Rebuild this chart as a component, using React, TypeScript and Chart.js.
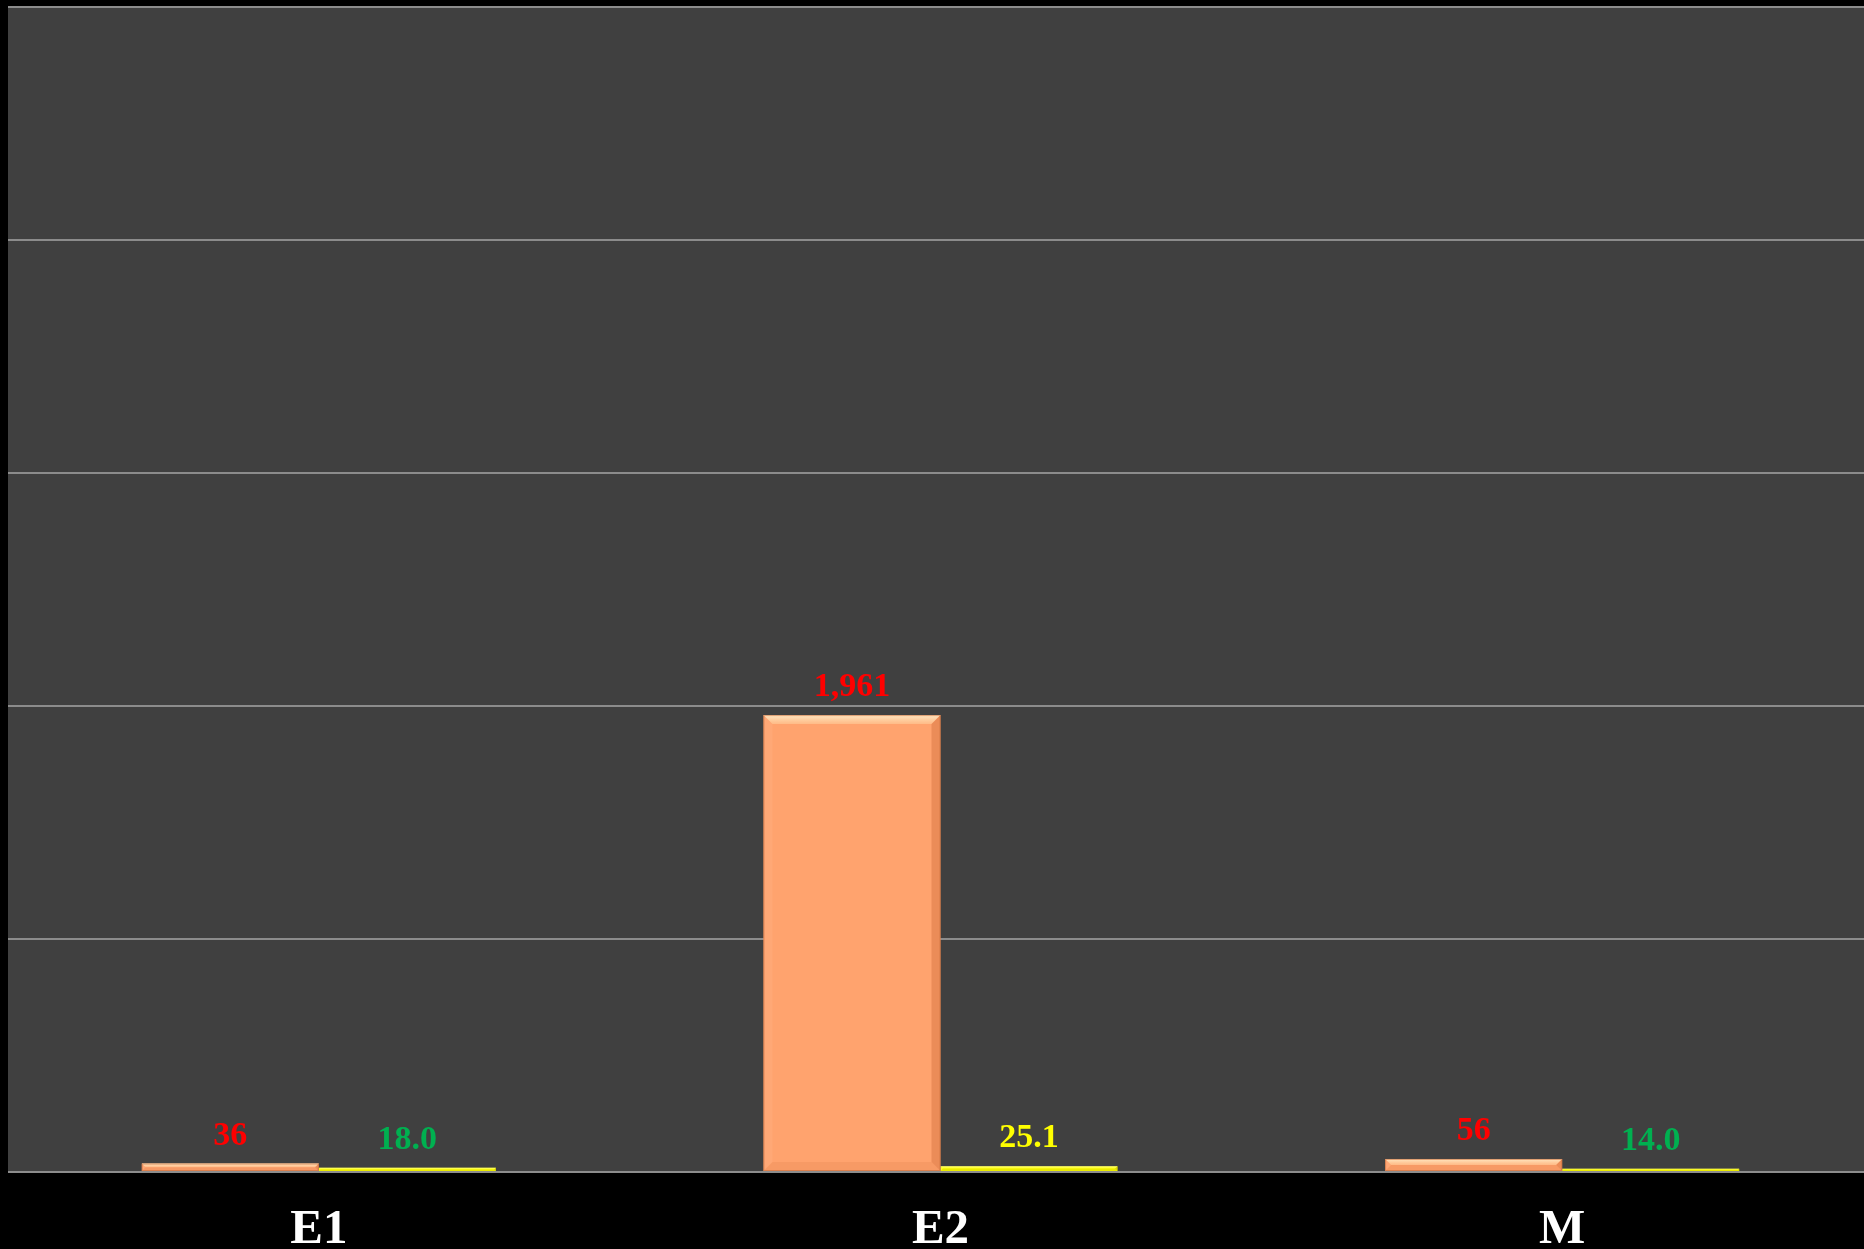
import React, { useEffect, useRef } from "react";
import { Chart, registerables } from "chart.js";

Chart.register(...registerables);

const categories = ["E1", "E2", "M"];
const seriesA = [36, 1961, 56];
const seriesB = [18.0, 25.1, 14.0];
const labelsA = ["36", "1,961", "56"];
const labelsB = ["18.0", "25.1", "14.0"];
const labelColorsA = ["#FF0000", "#FF0000", "#FF0000"];
const labelColorsB = ["#00B050", "#FFFF00", "#00B050"];
const yMax = 5000;
const yStep = 1000;

const CANVAS_W = 1873;
const CANVAS_H = 1262;

const bgPlugin = {
  id: "bgPlugin",
  beforeDraw(chart: any) {
    const { ctx, chartArea } = chart;
    ctx.save();
    ctx.fillStyle = "#000000";
    ctx.fillRect(0, 0, chart.width, chart.height);
    ctx.fillStyle = "#404040";
    ctx.fillRect(chartArea.left, chartArea.top, chartArea.right - chartArea.left, chartArea.bottom - chartArea.top);
    ctx.restore();
  },
};

function bevel(ctx: any, l: number, t: number, r: number, b: number, s: number, light: string, lightEnd: string, side: string, dark: string, bottom: string) {
  const g = ctx.createLinearGradient(0, t, 0, t + s);
  g.addColorStop(0, light);
  g.addColorStop(1, lightEnd);
  ctx.fillStyle = g;
  ctx.beginPath();
  ctx.moveTo(l, t);
  ctx.lineTo(r, t);
  ctx.lineTo(r - s, t + s);
  ctx.lineTo(l + s, t + s);
  ctx.closePath();
  ctx.fill();
  ctx.fillStyle = side;
  ctx.beginPath();
  ctx.moveTo(l, t);
  ctx.lineTo(l + s, t + s);
  ctx.lineTo(l + s, b - s);
  ctx.lineTo(l, b);
  ctx.closePath();
  ctx.fill();
  ctx.fillStyle = dark;
  ctx.beginPath();
  ctx.moveTo(r, t);
  ctx.lineTo(r - s, t + s);
  ctx.lineTo(r - s, b - s);
  ctx.lineTo(r, b);
  ctx.closePath();
  ctx.fill();
  ctx.fillStyle = bottom;
  ctx.beginPath();
  ctx.moveTo(l, b);
  ctx.lineTo(l + s, b - s);
  ctx.lineTo(r - s, b - s);
  ctx.lineTo(r, b);
  ctx.closePath();
  ctx.fill();
}

const barDecorPlugin = {
  id: "barDecor",
  afterDatasetsDraw(chart: any) {
    const { ctx } = chart;
    ctx.save();
    chart.data.datasets.forEach((ds: any, di: number) => {
      const meta = chart.getDatasetMeta(di);
      meta.data.forEach((el: any, i: number) => {
        const { x, y, base, width } = el.getProps(["x", "y", "base", "width"], true);
        const l = x - width / 2;
        const r = x + width / 2;
        const t = Math.min(y, base);
        const b = Math.max(y, base);
        const h = b - t;
        if (di === 0) {
          const s = Math.min(9, h / 2, width / 2);
          bevel(ctx, l, t, r, b, s, "rgba(255,236,200,0.95)", "rgba(255,215,165,0.45)", "rgba(255,190,150,0.2)", "rgba(190,90,40,0.3)", "rgba(190,90,40,0.12)");
          ctx.strokeStyle = "rgba(200,110,60,0.6)";
          ctx.lineWidth = 1;
          ctx.strokeRect(l + 0.5, t + 0.5, width - 1, h - 1);
        } else {
          const s = Math.min(3, h / 2, width / 2);
          bevel(ctx, l, t, r, b, s, "rgba(255,255,200,0.6)", "rgba(255,255,150,0.2)", "rgba(255,255,180,0.2)", "rgba(150,150,0,0.35)", "rgba(150,150,0,0.2)");
        }
        const txt = di === 0 ? labelsA[i] : labelsB[i];
        const col = di === 0 ? labelColorsA[i] : labelColorsB[i];
        ctx.font = "bold 34px 'Liberation Serif', 'Times New Roman', serif";
        ctx.fillStyle = col;
        ctx.textAlign = "center";
        ctx.textBaseline = "alphabetic";
        ctx.fillText(txt, x, t - 19);
      });
    });
    ctx.restore();
  },
};

export default function App() {
  const ref = useRef<HTMLCanvasElement | null>(null);
  useEffect(() => {
    document.body.style.margin = "0";
    document.body.style.background = "#000";
    document.body.style.overflow = "hidden";
    if (!ref.current) return;
    const chart = new Chart(ref.current, {
      type: "bar",
      data: {
        labels: categories,
        datasets: [
          {
            label: "A",
            data: seriesA,
            backgroundColor: "#FFA36E",
            borderWidth: 0,
            categoryPercentage: 0.5696,
            barPercentage: 1.0,
          },
          {
            label: "B",
            data: seriesB,
            backgroundColor: "#FFFF00",
            borderWidth: 0,
            categoryPercentage: 0.5696,
            barPercentage: 1.0,
          },
        ],
      },
      options: {
        responsive: false,
        animation: false,
        devicePixelRatio: 1,
        layout: { padding: { left: 8, top: 7, right: 0, bottom: 0 } },
        plugins: {
          legend: { display: false },
          tooltip: { enabled: false },
          title: { display: false },
        },
        scales: {
          x: {
            grid: { display: false, drawTicks: false },
            border: { display: false },
            afterFit: (scale: any) => {
              scale.height = 90;
            },
            ticks: {
              color: "#FFFFFF",
              padding: 29,
              font: { family: "'Liberation Serif', 'Times New Roman', serif", size: 49, weight: "bold" },
            },
          },
          y: {
            min: 0,
            max: yMax,
            afterFit: (scale: any) => {
              scale.width = 0;
            },
            ticks: { display: false, stepSize: yStep },
            grid: { color: "#8C8C8C", lineWidth: 2, drawTicks: false },
            border: { display: false },
          },
        },
      },
      plugins: [bgPlugin, barDecorPlugin],
    });
    return () => chart.destroy();
  }, []);
  return (
    <div style={{ position: "fixed", left: 0, top: 0, width: 1864, height: 1249, overflow: "hidden", background: "#000" }}>
      <canvas ref={ref} width={CANVAS_W} height={CANVAS_H} style={{ display: "block", width: CANVAS_W, height: CANVAS_H }} />
    </div>
  );
}
